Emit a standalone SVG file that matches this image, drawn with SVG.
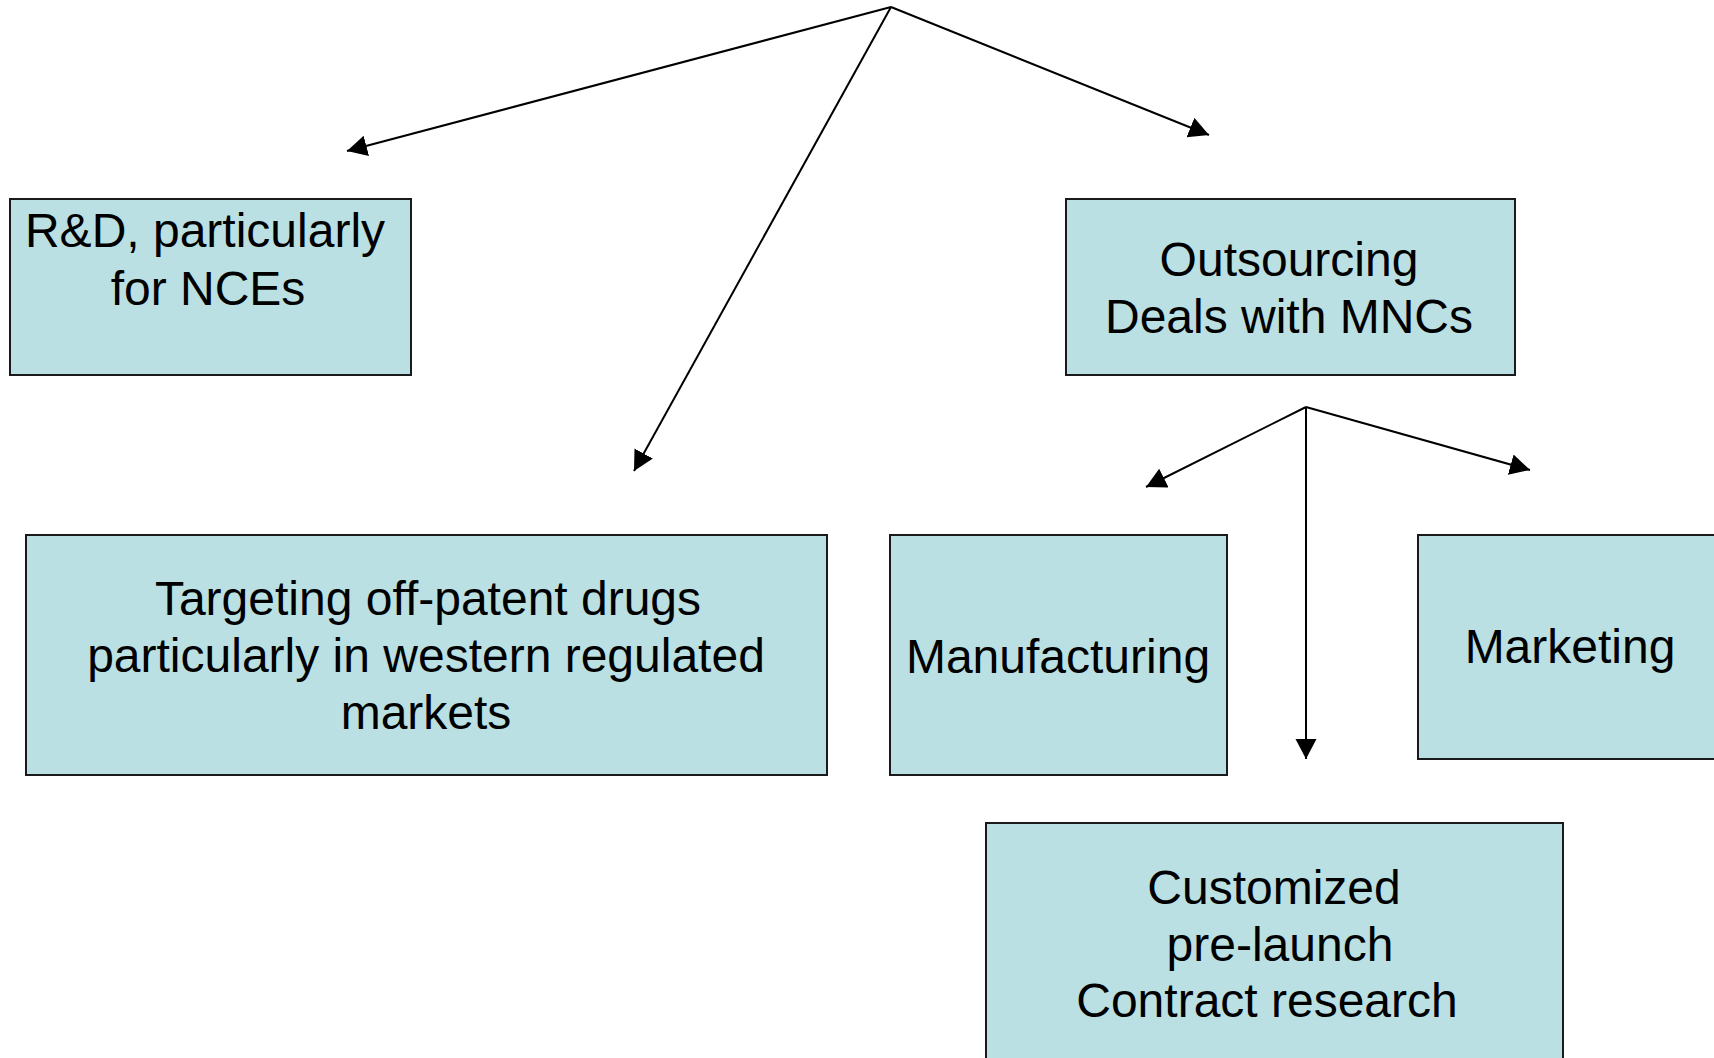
<svg xmlns="http://www.w3.org/2000/svg" width="1714" height="1058" viewBox="0 0 1714 1058">
<style>
.box{fill:#BAE0E3;stroke:#1a1a1a;stroke-width:2}
.lbl{font-family:"Liberation Sans",Arial,sans-serif;font-size:48px;fill:#000;text-anchor:middle}
.conn{stroke:#000;stroke-width:2;fill:none;marker-end:url(#arr)}
</style>
<defs>
<marker id="arr" markerUnits="userSpaceOnUse" markerWidth="22" markerHeight="22" refX="20" refY="10.5" orient="auto">
<path d="M0,0 L20,10.5 L0,21 z" fill="#000"/>
</marker>
</defs>
<rect width="1714" height="1058" fill="#fff"/>
<g id="connectors">
<line class="conn" x1="891" y1="7" x2="347" y2="151"/>
<line class="conn" x1="891" y1="7" x2="634" y2="471"/>
<line class="conn" x1="891" y1="7" x2="1209" y2="135"/>
<line class="conn" x1="1306" y1="407" x2="1146" y2="487"/>
<line class="conn" x1="1306" y1="407" x2="1306" y2="759"/>
<line class="conn" x1="1306" y1="407" x2="1530" y2="470"/>
</g>
<g id="node-rd">
<rect class="box" x="10" y="199" width="401" height="176"/>
<text class="lbl" x="205" y="247">R&amp;D, particularly</text>
<text class="lbl" x="208" y="305">for NCEs</text>
</g>
<g id="node-outsourcing">
<rect class="box" x="1066" y="199" width="449" height="176"/>
<text class="lbl" x="1289" y="276">Outsourcing</text>
<text class="lbl" x="1289" y="333">Deals with MNCs</text>
</g>
<g id="node-targeting">
<rect class="box" x="26" y="535" width="801" height="240"/>
<text class="lbl" x="428" y="615">Targeting off-patent drugs</text>
<text class="lbl" x="426" y="672">particularly in western regulated</text>
<text class="lbl" x="426" y="729">markets</text>
</g>
<g id="node-manufacturing">
<rect class="box" x="890" y="535" width="337" height="240"/>
<text class="lbl" x="1058" y="673">Manufacturing</text>
</g>
<g id="node-marketing">
<rect class="box" x="1418" y="535" width="306" height="224"/>
<text class="lbl" x="1570" y="663">Marketing</text>
</g>
<g id="node-customized">
<rect class="box" x="986" y="823" width="577" height="250"/>
<text class="lbl" x="1274" y="904">Customized</text>
<text class="lbl" x="1280" y="961">pre-launch</text>
<text class="lbl" x="1267" y="1017">Contract research</text>
</g>
</svg>
